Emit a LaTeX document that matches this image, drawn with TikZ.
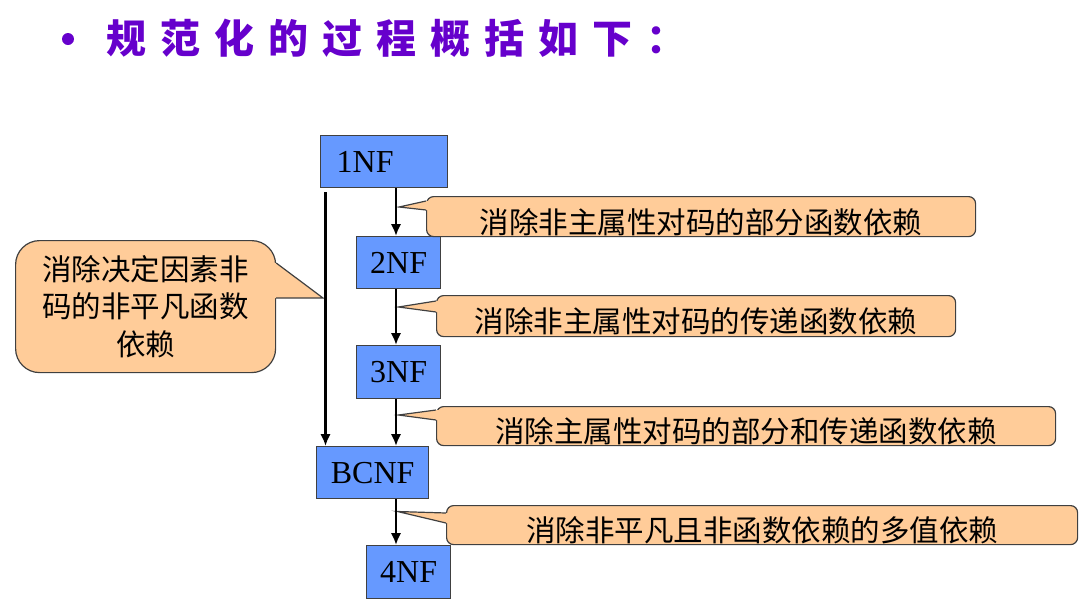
\documentclass[tikz,border=0pt]{standalone}
\usepackage{fontspec}
\setmainfont{Liberation Serif}
\newfontfamily\cjk{Noto Sans CJK SC}
\newfontfamily\titlefont[LetterSpace=35]{Noto Sans CJK SC}
\usetikzlibrary{arrows.meta,calc}
\definecolor{boxblue}{HTML}{6699FF}
\definecolor{peach}{HTML}{FFCC99}
\definecolor{edgegray}{HTML}{404040}
\definecolor{titlepurple}{HTML}{6600CC}
\tikzset{
  nfbox/.style={draw=edgegray, line width=1.3pt, fill=boxblue, inner sep=0pt,
    anchor=north west, font=\fontsize{32}{32}\selectfont},
  callshape/.style={draw=edgegray, line width=1.2pt, fill=peach, inner sep=0pt,
    font=\cjk\fontsize{29.5}{37.5}\selectfont},
  callone/.style={callshape, rounded corners=7pt, anchor=north west,
    text height=36pt, text depth=3pt},
  arr/.style={line width=2.8pt, -{Latex[length=12pt,width=10.5pt]}},
  tailline/.style={draw=edgegray, line width=1.2pt}
}
\newcommand\calltail[4]{%
  \fill[peach] (#2) -- ($(#1.north west)+(0,#3)$) -- ($(#1.north west)+(3,#3)$)
    -- ($(#1.north west)+(3,#4)$) -- ($(#1.north west)+(0,#4)$) -- cycle;
  \draw[tailline] ($(#1.north west)+(0,#3)$) -- (#2) -- ($(#1.north west)+(0,#4)$);}
\begin{document}
\begin{tikzpicture}[x=1pt,y=-1pt]
\useasboundingbox (0,0) rectangle (1088,606);
% title
\fill[titlepurple] (68,39) circle (6pt);
\node[anchor=west, text=titlepurple, inner sep=0pt,
  font=\titlefont\bfseries\fontsize{40}{40}\selectfont] (title) at (106,38) {规范化的过程概括如下：};
% NF boxes
\node[nfbox, minimum width=127pt, minimum height=52pt, text width=95pt, align=left, inner xsep=15pt] (n1) at (320,135) {1NF};
\node[nfbox, minimum width=84pt, minimum height=52pt] (n2) at (356,236) {2NF};
\node[nfbox, minimum width=84pt, minimum height=53pt] (n3) at (356,345) {3NF};
\node[nfbox, minimum width=112pt, minimum height=52pt] (bc) at (316,446) {BCNF};
\node[nfbox, minimum width=84pt, minimum height=53pt] (n4) at (366,545) {4NF};
% spines
\coordinate (sp) at (396,0);
\coordinate (lp) at (325.5,0);
% callouts
\node[callone, minimum width=549pt, minimum height=40pt] (c1) at (426,196) {消除非主属性对码的部分函数依赖};
\node[callone, minimum width=519pt, minimum height=41pt] (c2) at (436,295) {消除非主属性对码的传递函数依赖};
\node[callone, minimum width=619pt, minimum height=39pt] (c3) at (436,406) {消除主属性对码的部分和传递函数依赖};
\node[callone, minimum width=631pt, minimum height=38pt] (c4) at (446,505) {消除非平凡且非函数依赖的多值依赖};
\coordinate (t1) at (399,207);
\coordinate (t2) at (398.5,307);
\coordinate (t3) at (398.5,415);
\coordinate (t4) at (397.5,511.5);
\calltail{c1}{t1}{5}{14}
\calltail{c2}{t2}{6}{17}
\calltail{c3}{t3}{4}{14}
\calltail{c4}{t4}{8}{18}
% left callout
\node[callshape, rounded corners=24pt, anchor=north west, minimum width=260pt, minimum height=132pt, align=center] (L) at (15,240) {消除决定因素非\\码的非平凡函数\\依赖};
\coordinate (tl) at (323,298);
\fill[peach] (tl) -- ($(L.north east)+(0,23)$) -- ($(L.north east)+(-3,23)$) -- ($(L.north east)+(-3,58)$) -- ($(L.north east)+(0,58)$) -- cycle;
\draw[tailline] ($(L.north east)+(0,23)$) -- (tl) -- ($(L.north east)+(0,58)$);
% arrows
\draw[arr] (n1.south -| sp) -- (n2.north -| sp);
\draw[arr] (n2.south -| sp) -- (n3.north -| sp);
\draw[arr] (n3.south -| sp) -- (bc.north -| sp);
\draw[arr] (bc.south -| sp) -- (n4.north -| sp);
\draw[arr] ($(n1.south -| lp)+(0,4)$) -- (bc.north -| lp);
\end{tikzpicture}
\end{document}
